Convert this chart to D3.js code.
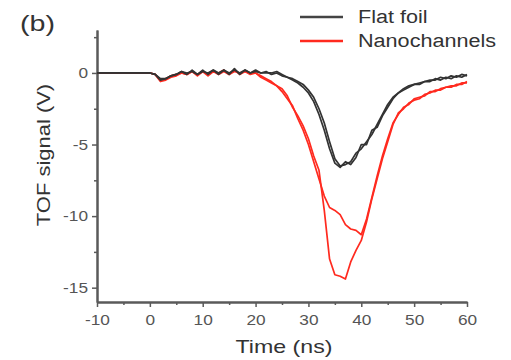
<!DOCTYPE html>
<html>
<head>
<meta charset="utf-8">
<script src="https://cdn.jsdelivr.net/npm/d3@7"></script>
<style>
  body { margin: 0; background: #fff; }
  text { font-family: "Liberation Sans", Arial, sans-serif; }
</style>
</head>
<body>
<div class="canva"></div>
<script>
// time axis, 1 ns steps from -10 to 60
const time = [-10,-9,-8,-7,-6,-5,-4,-3,-2,-1,0,1,2,3,4,5,6,7,8,9,10,11,12,13,14,15,16,17,18,19,20,
  21,22,23,24,25,26,27,28,29,30,31,32,33,34,35,36,37,38,39,40,41,42,43,44,45,46,47,48,49,50,
  51,52,53,54,55,56,57,58,59,60];

// flat foil, two shots (V)
const flatA = [0,0,0,0,0,0,0,0,0,0,0,-0.1,-0.5,-0.4,-0.2,-0.1,0.1,-0.1,0.2,-0.1,0.2,
  -0.1,0.2,0,0.2,-0.1,0.3,-0.1,0.2,0,0.2,0,0.1,-0.1,0,-0.2,-0.3,-0.4,-0.6,-0.8,-1.2,
  -1.7,-2.5,-3.5,-4.8,-6.0,-6.5,-6.4,-6.2,-5.6,-5.3,-4.8,-4.3,-3.6,-2.9,-2.2,-1.7,-1.4,-1.1,-0.9,-0.8,
  -0.7,-0.6,-0.5,-0.5,-0.3,-0.4,-0.2,-0.3,-0.1,-0.2];
const flatB = [0,0,0,0,0,0,0,0,0,0,0,-0.1,-0.4,-0.4,-0.2,-0.1,0.1,0,0.1,-0.1,0.1,
  0,0.2,-0.1,0.2,0,0.2,0,0.2,0,0.1,0,0,0,0.1,-0.1,-0.3,-0.5,-0.7,-1.0,-1.4,
  -2.0,-2.9,-4.0,-5.3,-6.3,-6.6,-6.2,-6.4,-5.9,-5.0,-5.0,-4.0,-3.8,-3.0,-2.4,-1.8,-1.4,-1.2,-1.0,-0.8,
  -0.8,-0.6,-0.6,-0.4,-0.5,-0.3,-0.4,-0.2,-0.3,-0.1];

// nanochannels, two shots (V)
const nanoA = [0,0,0,0,0,0,0,0,0,0,0,-0.1,-0.6,-0.5,-0.3,-0.2,0,-0.1,0.1,-0.2,0.1,
  -0.1,0.1,0,0.2,-0.1,0.2,-0.1,0.1,0,0,-0.3,-0.5,-0.7,-0.9,-1.1,-1.6,-2.4,-3.0,-3.7,-4.6,
  -5.8,-6.8,-9.6,-13.0,-14.1,-14.2,-14.4,-13.2,-12.4,-11.7,-10.4,-8.8,-7.4,-6.0,-4.8,-3.6,-2.8,-2.5,-2.1,-1.9,
  -1.8,-1.5,-1.4,-1.2,-1.2,-1.0,-0.9,-0.9,-0.7,-0.7];
const nanoB = [0,0,0,0,0,0,0,0,0,0,0,-0.1,-0.5,-0.4,-0.2,-0.1,0,-0.1,0.1,-0.1,0.1,
  -0.2,0.1,-0.1,0.1,-0.1,0.1,0,0.1,-0.1,0,-0.2,-0.4,-0.6,-0.9,-1.3,-1.8,-2.3,-3.2,-4.0,-5.0,
  -6.2,-7.4,-8.6,-9.4,-9.6,-9.9,-10.6,-10.9,-11.0,-11.3,-10.2,-8.7,-7.2,-5.8,-4.6,-3.5,-2.9,-2.4,-2.2,-1.8,
  -1.7,-1.6,-1.3,-1.3,-1.1,-1.0,-1.0,-0.8,-0.8,-0.6];

const xMajor = [-10, 0, 10, 20, 30, 40, 50, 60];
const xMinor = [-5, 5, 15, 25, 35, 45, 55];
const yMajor = [0, -5, -10, -15];
const yMinor = [2.5, -2.5, -7.5, -12.5];

const legendNames = ["Flat foil", "Nanochannels"];
const black = "#333", red = "#ff2a1f";

const svg = d3.select(".canva").append("svg")
    .attr("width", 511)
    .attr("height", 360);

const x = d3.scaleLinear().domain([-10, 60]).range([97, 467]);
const y = d3.scaleLinear().domain([-16, 3]).range([302, 30]);

// the figure's lettering is wider than Liberation Sans, so stretch it a bit
function widen(sel, k, how) {
  sel.each(function() {
    const w = this.getComputedTextLength();
    d3.select(this).attr("textLength", w * k).attr("lengthAdjust", how || "spacingAndGlyphs");
  });
}

// plain hyphen like the original figure
const fmt = d => String(d);

// axes
const axisColor = "#5a5a5a";
const gx = svg.append("g").attr("transform", `translate(0,${y(-16)})`)
    .call(d3.axisBottom(x).tickValues(xMajor).tickFormat(fmt).tickSize(5).tickPadding(7).tickSizeOuter(0));
const gxm = svg.append("g").attr("transform", `translate(0,${y(-16)})`)
    .call(d3.axisBottom(x).tickValues(xMinor).tickSize(3).tickFormat("").tickSizeOuter(0));
const gy = svg.append("g").attr("transform", `translate(${x(-10)},0)`)
    .call(d3.axisLeft(y).tickValues(yMajor).tickFormat(fmt).tickSize(5).tickPadding(4).tickSizeOuter(0));
const gym = svg.append("g").attr("transform", `translate(${x(-10)},0)`)
    .call(d3.axisLeft(y).tickValues(yMinor).tickSize(3).tickFormat("").tickSizeOuter(0));

[gx, gxm, gy, gym].forEach(g => {
  g.select(".domain").attr("stroke", axisColor).attr("stroke-width", 2);
  g.selectAll(".tick line").attr("stroke", axisColor).attr("stroke-width", 1.5);
  g.selectAll(".tick text").attr("fill", "#555").style("font-size", "15px")
    .style("font-family", "'Liberation Sans', Arial, sans-serif");
});
widen(gx.selectAll(".tick text"), 1.15);
widen(gy.selectAll(".tick text"), 1.15);

// curves
const line = d3.line()
    .x((d, i) => x(time[i]))
    .y(d => y(d));

const series = [
  {vals: nanoB, color: red},
  {vals: nanoA, color: red},
  {vals: flatB, color: black},
  {vals: flatA, color: black}
];

svg.append("g").selectAll("path")
  .data(series)
  .enter()
  .append("path")
  .attr("d", d => line(d.vals))
  .attr("fill", "none")
  .attr("stroke", d => d.color)
  .attr("stroke-width", 1.7)
  .attr("stroke-linejoin", "round");

// legend
const legend = svg.append("g");
legend.selectAll("line")
  .data(legendNames)
  .enter()
  .append("line")
  .attr("x1", 300).attr("x2", 343)
  .attr("y1", (d, i) => 17 + i * 24)
  .attr("y2", (d, i) => 17 + i * 24)
  .attr("stroke", (d, i) => i === 0 ? "#444" : red)
  .attr("stroke-width", 2.5);
const legendText = legend.selectAll("text")
  .data(legendNames)
  .enter()
  .append("text")
  .attr("x", 358)
  .attr("y", (d, i) => 17 + i * 24)
  .attr("dy", "0.36em")
  .attr("fill", "#333")
  .style("font-size", "18px")
  .text(d => d);
widen(legendText, 1.2);

// titles
const yTitle = svg.append("text")
  .attr("transform", "translate(50,155) rotate(-90)")
  .attr("text-anchor", "middle")
  .attr("fill", "#333")
  .style("font-size", "18px")
  .text("TOF signal (V)");
widen(yTitle, 1.22);

const xTitle = svg.append("text")
  .attr("x", 284)
  .attr("y", 353)
  .attr("text-anchor", "middle")
  .attr("fill", "#333")
  .style("font-size", "19px")
  .text("Time (ns)");
widen(xTitle, 1.22);

const panel = svg.append("text")
  .attr("x", 20)
  .attr("y", 31)
  .attr("fill", "#333")
  .style("font-size", "22px")
  .text("(b)");
widen(panel, 1.3);
</script>
</body>
</html>
